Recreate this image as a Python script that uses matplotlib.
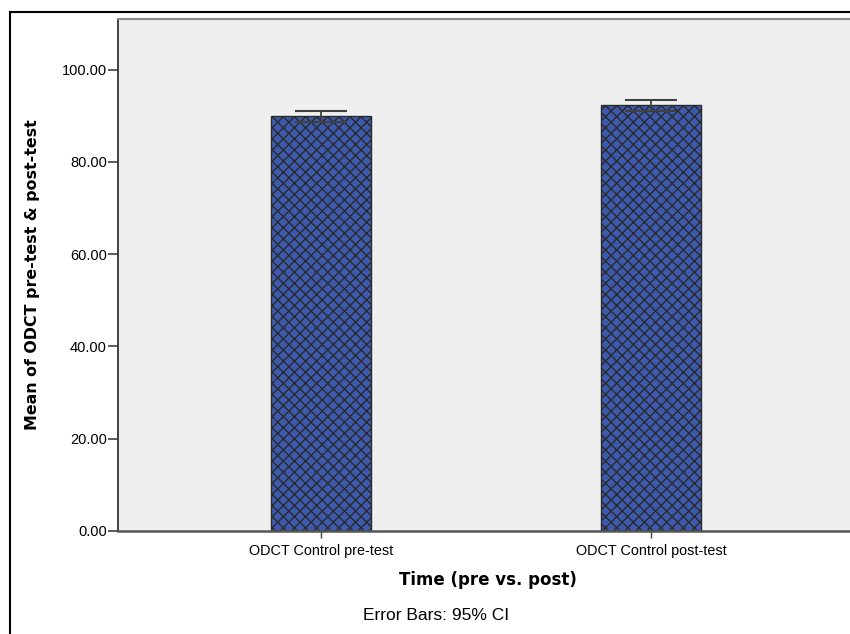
import matplotlib
matplotlib.use("Agg")
import matplotlib.pyplot as plt
from matplotlib.lines import Line2D

categories = ["ODCT Control pre-test", "ODCT Control post-test"]
means = [89.87, 92.25]
ci_half = [1.2, 1.1]
yticks = [0, 20, 40, 60, 80, 100]

plt.rcParams['font.family'] = ['Liberation Sans', 'DejaVu Sans']
plt.rcParams['hatch.linewidth'] = 1.0
plt.rcParams['hatch.color'] = '#000000'

fig = plt.figure(figsize=(8.5, 6.34), dpi=100)
ax = fig.add_axes([118/850, 1 - 531/634, 736/850, 512/634])
ax.set_facecolor('#efefef')

x = list(range(len(categories)))
ax.bar(x, means, width=0.303, color='#3d5aae', edgecolor='#2a2a2a',
       linewidth=1.0, hatch='xxx', zorder=2)
ax.errorbar(x, means, yerr=ci_half, fmt='none', ecolor='#404040',
            elinewidth=1.3, capsize=18.4, capthick=1.5, zorder=3)

ax.set_xlim(-0.615, 1.615)
ax.set_ylim(0, 111)
ax.set_yticks(yticks)
ax.set_yticklabels([f"{v:.2f}" for v in yticks], fontsize=10.5)
ax.set_xticks(x)
ax.set_xticklabels(categories, fontsize=10.4)
ax.tick_params(axis='y', length=7.5, width=1.2, color='#404040', pad=0.5)
ax.tick_params(axis='x', length=5, width=1.0, color='#404040', pad=4)

ax.spines['right'].set_visible(False)
ax.spines['top'].set_color('#8a8a8a')
ax.spines['top'].set_linewidth(1.5)
ax.spines['left'].set_color('#333333')
ax.spines['left'].set_linewidth(1.3)
ax.spines['bottom'].set_color('#555555')
ax.spines['bottom'].set_linewidth(1.8)

ax.set_ylabel("Mean of ODCT pre-test & post-test", fontsize=11.4,
              fontweight='bold', family='DejaVu Sans')
ax.yaxis.set_label_coords((40 - 118) / 736, (531 - 275) / 512)
fig.text(488/850, 1 - 580/634, "Time (pre vs. post)", fontsize=12,
         fontweight='bold', family='DejaVu Sans', ha='center', va='center')
fig.text(436/850, 1 - 616/634, "Error Bars: 95% CI", fontsize=12.5,
         ha='center', va='center')

# outer frame
fig.add_artist(Line2D([10/850, 10/850], [0, 1 - 12/634], color='black',
                      linewidth=1.5, transform=fig.transFigure))
fig.add_artist(Line2D([10/850, 1], [1 - 12/634, 1 - 12/634], color='black',
                      linewidth=1.5, transform=fig.transFigure))

fig.savefig("out.png", dpi=100)
